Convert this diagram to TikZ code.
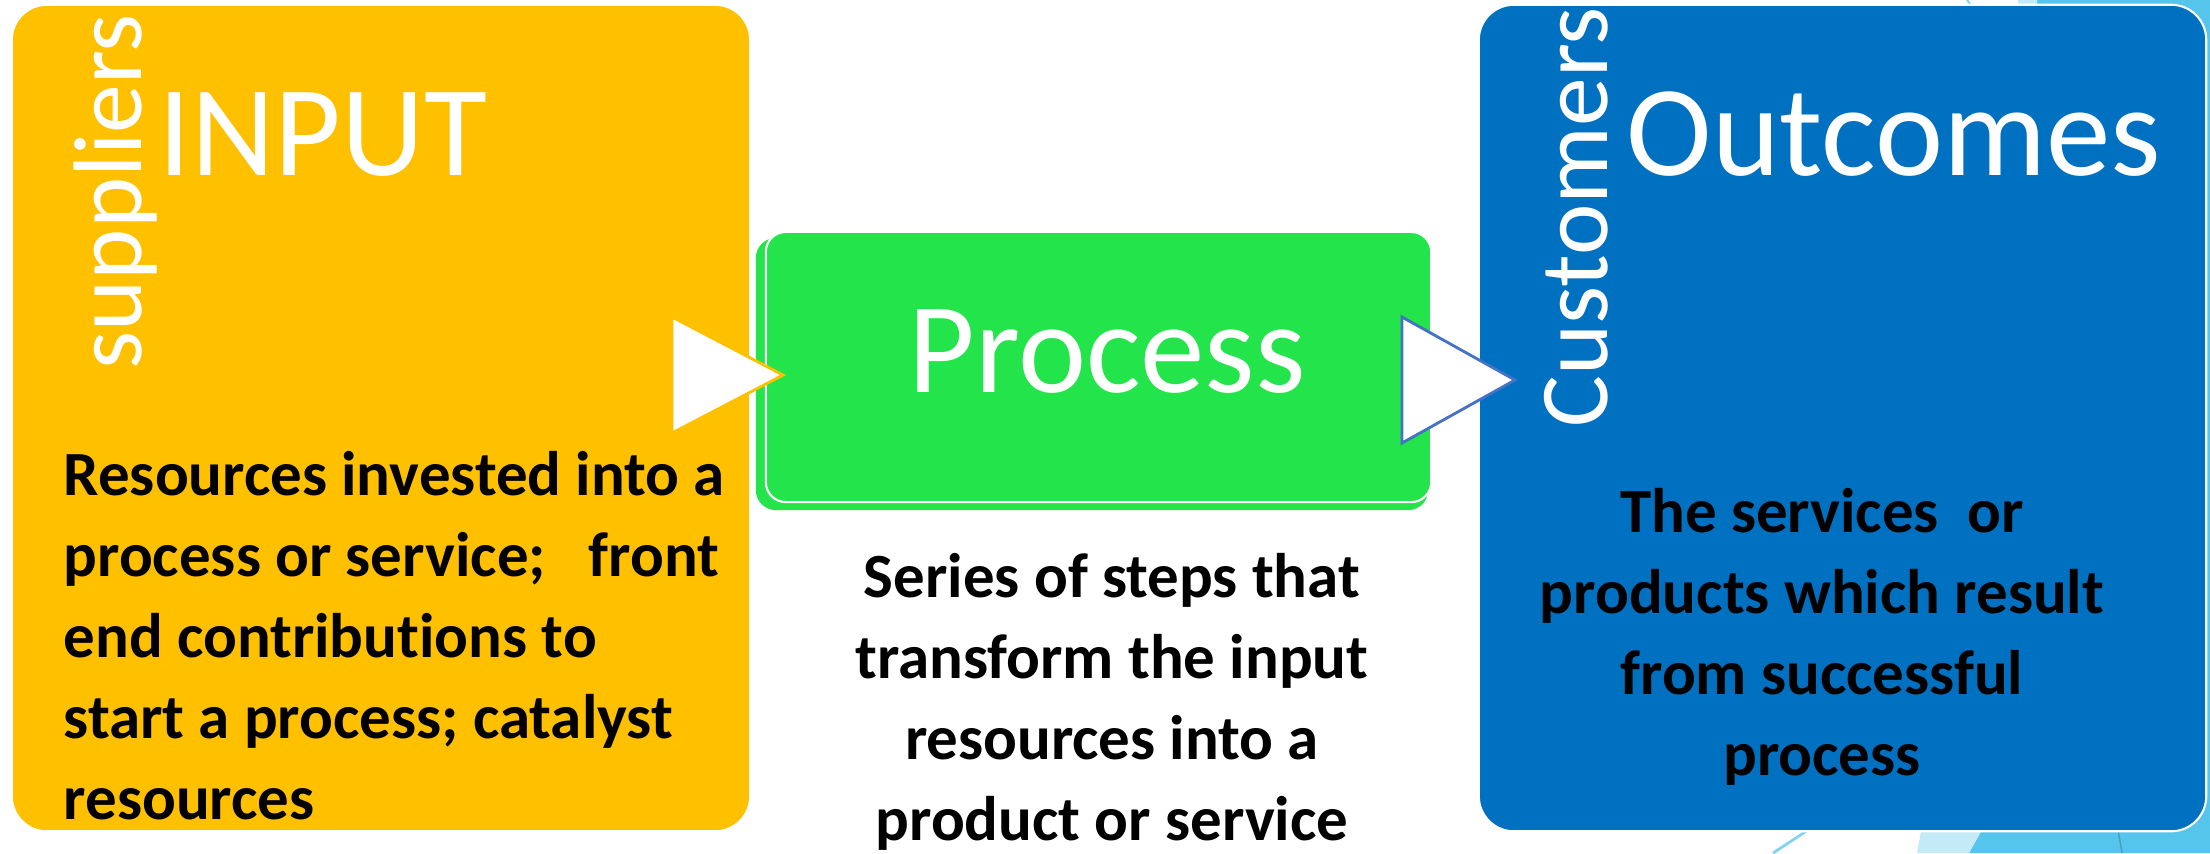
\documentclass[tikz,border=0pt]{standalone}
\usepackage{fontspec}
\setmainfont{Carlito}[Ligatures=NoCommon]
\usetikzlibrary{positioning}
\definecolor{inputorange}{RGB}{255,192,0}
\definecolor{processgreen}{RGB}{36,228,76}
\definecolor{outcomeblue}{RGB}{0,112,192}
\definecolor{facetpale}{RGB}{197,234,247}
\definecolor{facetblue}{RGB}{86,197,236}
\definecolor{facetline}{RGB}{130,212,242}
\definecolor{arrowblue}{RGB}{68,114,196}

\begin{document}
\begin{tikzpicture}[x=0.01cm,y=-0.01cm]
  \tikzstyle{block}=[draw=white,line width=0.6pt,rounded corners=0.35cm,inner sep=0pt]
  \tikzstyle{title}=[text=white,inner sep=0pt,font=\fontsize{36.7}{40}\selectfont]
  \tikzstyle{side}=[text=white,inner sep=0pt,rotate=90,anchor=base west,font=\fontsize{27.7}{30}\selectfont]
  \tikzstyle{body}=[inner sep=0pt,font=\fontsize{17.9}{23}\selectfont\bfseries]
  \tikzstyle{chevron}=[fill=white,line width=0.8pt,line join=miter]
  \useasboundingbox (0,0) rectangle (2210,853);

  % facets behind the outcomes block
  \fill[facetblue] (2037,0) -- (2210,0) -- (2210,853) -- (1969,853) -- (1990,815) -- (2037,20) -- cycle;
  \fill[facetpale] (2018,0) -- (2037,0) -- (2037,20) -- (2020,20) -- cycle;
  \fill[facetpale] (1917,853) -- (1969,853) -- (1990,815) -- (1924,815) -- cycle;
  \draw[facetline,line width=0.8pt] (1773,853) -- (1808,830);
  \draw[facetline,line width=0.6pt] (1967,0) -- (1973,8);
  \draw[facetblue!80!black,line width=0.4pt] (2118,830) -- (2122,853);

  \node[block,fill=inputorange,minimum width=7.38cm,minimum height=8.26cm] (input) at (381,418) {};
  \node[fill=processgreen,rounded corners=0.2cm,inner sep=0pt,minimum width=6.72cm,minimum height=2.72cm] (procback) at (1092,374) {};
  \node[block,rounded corners=0.2cm,fill=processgreen,minimum width=6.65cm,minimum height=2.70cm] (process) at (1098.5,367) {};
  \node[block,fill=outcomeblue,minimum width=7.27cm,minimum height=8.26cm] (outcomes) at (1842.5,418) {};

  \draw[chevron,draw=inputorange] (672,317) -- (783,375) -- (672,433) -- cycle;
  \draw[chevron,draw=arrowblue] (1402,317) -- (1515,380) -- (1402,443) -- cycle;

  \node[side] (suppliers) at (141,370) {suppliers};
  \node[title,anchor=base west] (intitle) at (158,175) {INPUT};
  \node[title,anchor=base] (proctitle) at (1107,392) {Process};
  \node[side] (customers) at (1607,428) {Customers};
  \node[title,anchor=base west] (outtitle) at (1626,175) {Outcomes};

  % multi-line text: base is the last line
  \node[body,align=left,anchor=base west] (intext) at (63,819)
    {Resources invested into a\\process or service;~~ front\\end contributions to\\start a process; catalyst\\resources};
  \node[body,align=center,anchor=base] (proctext) at (1112,840)
    {Series of steps that\\transform the input\\resources into a\\product or service};
  \node[body,align=center,anchor=base] (outtext) at (1822,775)
    {The services~ or\\products which result\\from successful\\process};
\end{tikzpicture}
\end{document}
